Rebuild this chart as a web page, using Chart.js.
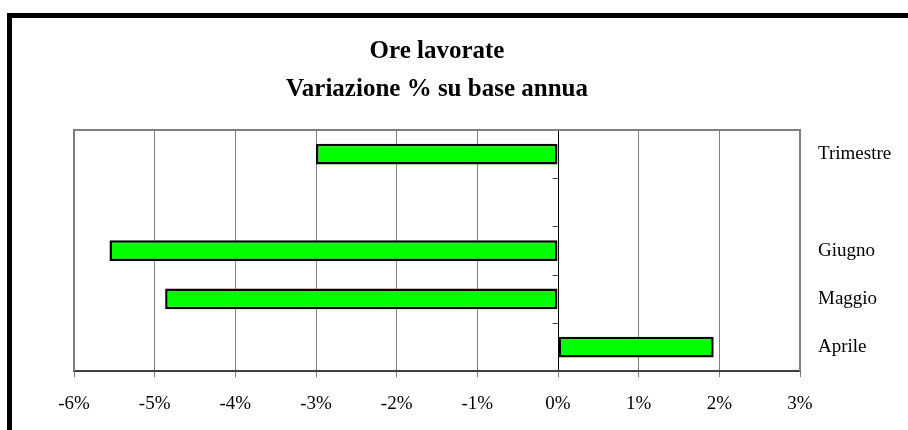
<!DOCTYPE html>
<html>
<head>
<meta charset="utf-8">
<script src="https://cdn.jsdelivr.net/npm/chart.js@4"></script>
<style>
  html,body{margin:0;padding:0;background:#fff;overflow:hidden}
  #frame{position:absolute;left:7px;top:13px;width:1000px;height:1000px;border-left:5px solid #000;border-top:5px solid #000}
  #wrap{position:absolute;left:0;top:0;width:908px;height:430px}
</style>
</head>
<body>
<div id="frame"></div>
<div id="wrap"><canvas id="ch"></canvas></div>
<script>
// dati
const categorie=['Trimestre','','Giugno','Maggio','Aprile'];
const variazioni=[-3.0,null,-5.56,-4.87,1.93];
const asseMin=-6, asseMax=3;

const FONT="'Liberation Serif', 'Times New Roman', serif";

// riquadro del grafico (sopra, sinistra, destra) + tacche sull'asse zero
const cornice={
  id:'cornice',
  beforeDatasetsDraw(chart){
    const {ctx,chartArea:a}=chart;
    ctx.save();
    ctx.strokeStyle='#808080'; ctx.lineWidth=2;
    ctx.beginPath();
    ctx.moveTo(a.left,a.bottom); ctx.lineTo(a.left,a.top);
    ctx.lineTo(a.right,a.top); ctx.lineTo(a.right,a.bottom);
    ctx.stroke();
    // tacche tra le categorie sull'asse dello zero
    const x0=Math.round(chart.scales.x.getPixelForValue(0))+0.5;
    const y=chart.scales.y;
    ctx.strokeStyle='#404040'; ctx.lineWidth=1;
    ctx.beginPath();
    for(let i=1;i<categorie.length;i++){
      const py=Math.round(y.getPixelForValue(i-0.5))+0.5;
      ctx.moveTo(x0-6,py); ctx.lineTo(x0,py);
    }
    ctx.stroke();
    ctx.restore();
  }
};

new Chart(document.getElementById('ch'),{
  type:'bar',
  data:{
    labels:categorie,
    datasets:[{
      data:variazioni,
      backgroundColor:'#00ff00',
      borderColor:'#000',
      borderWidth:2.5,
      borderSkipped:false,
      barPercentage:0.43,
      categoryPercentage:1
    }]
  },
  options:{
    indexAxis:'y',
    responsive:true,maintainAspectRatio:false,animation:false,
    layout:{padding:{left:74,top:0,right:0,bottom:0}},
    plugins:{
      legend:{display:false},
      tooltip:{enabled:false},
      title:{
        display:true,fullSize:false,
        text:['Ore lavorate','Variazione % su base annua'],
        color:'#000',
        font:{family:FONT,size:25,weight:'bold',lineHeight:1.52},
        padding:{top:33,bottom:21}
      }
    },
    scales:{
      x:{
        min:asseMin,max:asseMax,
        ticks:{stepSize:1,callback:v=>v+'%',color:'#000',font:{family:FONT,size:19},padding:15,maxRotation:0},
        grid:{color:c=>c.tick&&c.tick.value===0?'#000':'#808080',lineWidth:1,tickLength:6,tickColor:'#808080',drawTicks:true},
        border:{color:'#404040',width:2}
      },
      y:{
        position:'right',
        ticks:{color:'#000',font:{family:FONT,size:19},padding:18,crossAlign:'near'},
        grid:{display:false,drawTicks:false},
        border:{display:false},
        afterFit(s){s.width=108;}
      }
    }
  },
  plugins:[cornice]
});
</script>
</body>
</html>
